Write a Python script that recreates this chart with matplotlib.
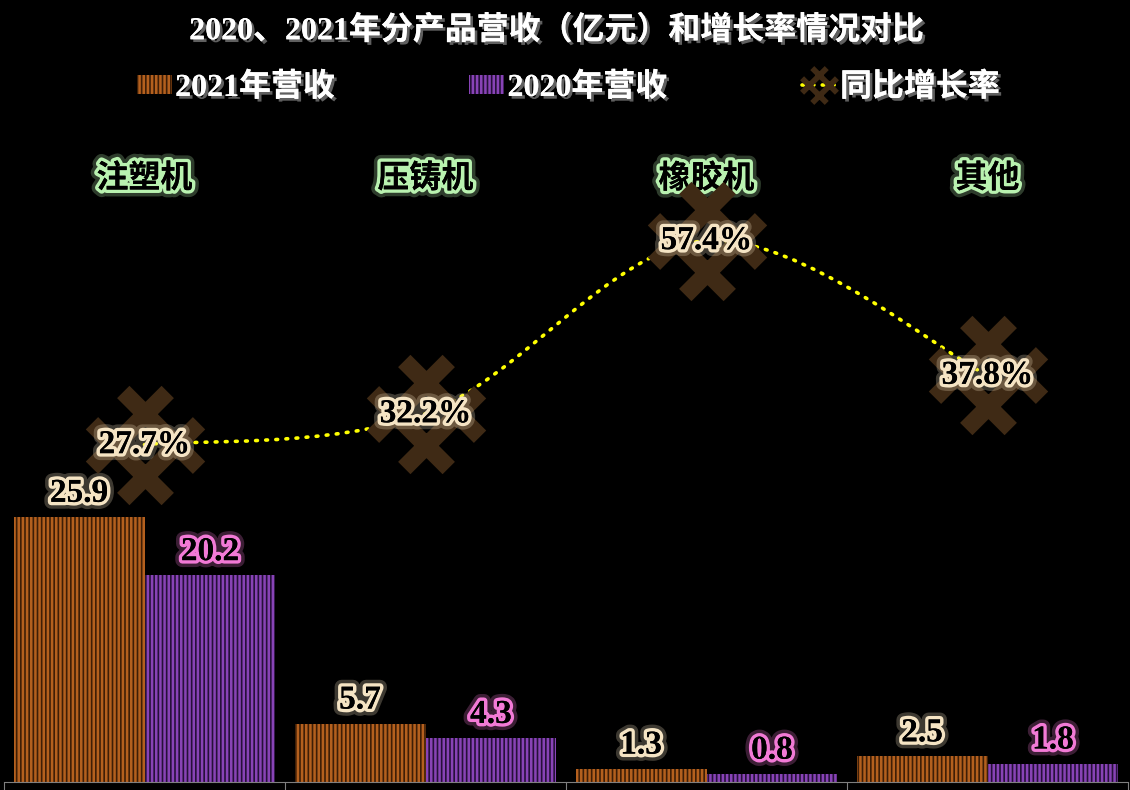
import numpy as np
import matplotlib
matplotlib.use("Agg")
import matplotlib.pyplot as plt
import matplotlib.patheffects as pe
from matplotlib.path import Path
from matplotlib.patches import Patch, PathPatch
from matplotlib.lines import Line2D
from matplotlib.transforms import blended_transform_factory

# --------------------------------------------------
# Data
# --------------------------------------------------
categories = ["注塑机", "压铸机", "橡胶机", "其他"]
rev_2021 = [25.9, 5.7, 1.3, 2.5]
rev_2020 = [20.2, 4.3, 0.8, 1.8]
growth = [27.7, 32.2, 57.4, 37.8]

title = "2020、2021年分产品营收（亿元）和增长率情况对比"
legend_labels = ["2021年营收", "2020年营收", "同比增长率"]

# --------------------------------------------------
# Style
# --------------------------------------------------
plt.rcParams["font.family"] = ["Liberation Serif", "Noto Sans CJK SC", "DejaVu Sans"]
plt.rcParams["font.weight"] = "bold"
plt.rcParams["hatch.linewidth"] = 1.8

orange_bg, orange_fg = "#3e1e06", "#b4601e"
purple_bg, purple_fg = "#26103a", "#8843b6"
marker_col = "#3f2a15"
cream = "#f5e4c4"
pink = "#f27ad6"
green = "#b9f2b0"


def glow(col):
    return [pe.withStroke(linewidth=10, foreground=col, alpha=0.25),
            pe.withStroke(linewidth=5, foreground=col),
            pe.Normal()]


shadow = [pe.withSimplePatchShadow(offset=(2, -2), shadow_rgbFace="#6a6a6a", alpha=0.9),
          pe.Normal()]


# hash-like marker (a '#' rotated 45 degrees)
def hash_marker():
    polys = []
    L, w, d = 0.46, 0.075, 0.19
    for ang in (np.pi / 4, -np.pi / 4):
        u = np.array([np.cos(ang), np.sin(ang)])
        n = np.array([-u[1], u[0]])
        for off in (-d, d):
            c = n * off
            pts = [c - u * L - n * w, c + u * L - n * w,
                   c + u * L + n * w, c - u * L + n * w, c - u * L - n * w]
            polys.append(Path(pts, [Path.MOVETO] + [Path.LINETO] * 3 + [Path.CLOSEPOLY]))
    return Path.make_compound_path(*polys)


hmark = hash_marker()

# --------------------------------------------------
# Figure
# --------------------------------------------------
fig = plt.figure(figsize=(11.3, 7.9), dpi=100, facecolor="black")
ax = fig.add_axes([4 / 1130, 8 / 790, 1124 / 1130, 652 / 790])
ax.set_facecolor("black")

x = np.arange(len(categories))
bw = 0.466
ax.bar(x - bw / 2, rev_2021, bw, color=orange_bg, edgecolor=orange_fg,
       hatch="||||", linewidth=0, zorder=2)
ax.bar(x + bw / 2, rev_2020, bw, color=purple_bg, edgecolor=purple_fg,
       hatch="||||", linewidth=0, zorder=2)

ax.set_xlim(-0.5, len(categories) - 0.5)
ax.set_ylim(0, 63.7)
for s in ("top", "left", "right"):
    ax.spines[s].set_visible(False)
ax.spines["bottom"].set_color("#7f7f7f")
ax.set_xticks(np.arange(len(categories) + 1) - 0.5)
ax.set_xticklabels([])
ax.set_yticks([])
ax.tick_params(axis="x", colors="#7f7f7f", length=6, direction="out")

for xi, v in zip(x, rev_2021):
    ax.annotate(f"{v}", (xi - bw / 2, v), xytext=(0, 17), textcoords="offset points",
                ha="center", va="center", fontsize=24, color="black",
                path_effects=glow(cream), zorder=6)
for xi, v in zip(x, rev_2020):
    ax.annotate(f"{v}", (xi + bw / 2, v), xytext=(0, 17), textcoords="offset points",
                ha="center", va="center", fontsize=24, color="black",
                path_effects=glow(pink), zorder=6)

# category labels at top
tr = blended_transform_factory(ax.transData, ax.transAxes)
for xi, c in zip(x, categories):
    ax.text(xi, 0.924, c, transform=tr, ha="center", va="center", fontsize=23,
            color="black", path_effects=glow(green), zorder=6)

# --------------------------------------------------
# Growth rate (secondary axis)
# --------------------------------------------------
ax2 = ax.twinx()
ax2.set_ylim(-21.4, 73.5)
ax2.axis("off")

# smooth line through the points (bezier segments)
P = np.column_stack([x, growth]).astype(float)
Pe = np.vstack([P[0], P, P[-1]])
verts = [P[0]]
codes = [Path.MOVETO]
for i in range(len(P) - 1):
    c1 = Pe[i + 1] + (Pe[i + 2] - Pe[i]) / 6
    c2 = Pe[i + 2] - (Pe[i + 3] - Pe[i + 1]) / 6
    verts += [c1, c2, Pe[i + 2]]
    codes += [Path.CURVE4] * 3
ax2.add_patch(PathPatch(Path(verts, codes), fill=False, edgecolor="#ffff00",
                        linewidth=2.6, linestyle=(0, (0.5, 2.3)),
                        capstyle="round", zorder=3))

ax2.plot(x, growth, linestyle="none", marker=hmark, markersize=86,
         markerfacecolor=marker_col, markeredgewidth=0, zorder=4)
for xi, g in zip(x, growth):
    ax2.text(xi, g, f"{g}%", ha="center", va="center", fontsize=24,
             color="black", path_effects=glow(cream), zorder=6)

# --------------------------------------------------
# Title & legend
# --------------------------------------------------
fig.text(0.493, 0.961, title, ha="center", va="center", fontsize=23,
         color="white", path_effects=shadow)

handles = [
    Patch(facecolor=orange_bg, edgecolor=orange_fg, hatch="||||", linewidth=0),
    Patch(facecolor=purple_bg, edgecolor=purple_fg, hatch="||||", linewidth=0),
    Line2D([0], [0], color="#ffff00", linewidth=2.6, linestyle=(0, (0.5, 2.3)),
           dash_capstyle="round", marker=hmark, markersize=28,
           markerfacecolor=marker_col, markeredgewidth=0),
]
leg = fig.legend(handles, legend_labels, loc="center", bbox_to_anchor=(0.503, 0.889),
                 ncol=3, frameon=False, fontsize=23, labelcolor="white",
                 handlelength=1.1, handleheight=0.55, handletextpad=0.1,
                 columnspacing=4.2)
for t in leg.get_texts():
    t.set_path_effects(shadow)

fig.savefig("out.png", dpi=100, facecolor="black")
